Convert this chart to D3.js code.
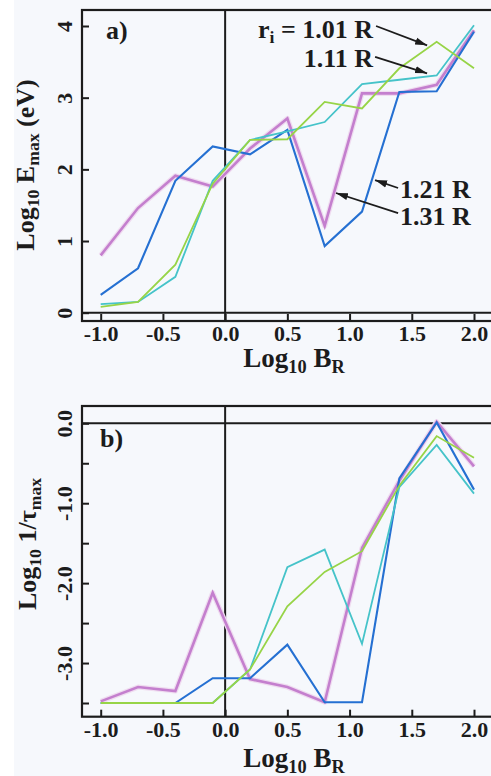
<!DOCTYPE html>
<html>
<head>
<meta charset="utf-8">
<script src="https://cdn.jsdelivr.net/npm/d3@7"></script>
<style>
  html, body { margin: 0; padding: 0; background: #f6f8fc; }
  svg { display: block; }
  text { font-family: "Liberation Serif", "Times New Roman", serif; font-weight: bold; fill: #1c1c1c; }
</style>
</head>
<body>
<svg id="chart" width="491" height="776"></svg>
<script>
// Sampled field strengths (log10 B_R), shared by every curve
const logB = [-1.0, -0.7, -0.4, -0.1, 0.2, 0.5, 0.8, 1.1, 1.4, 1.7, 2.0];

// Injection radii
const radii = ["1.01 R", "1.11 R", "1.21 R", "1.31 R"];

// Panel a): log10 E_max (eV)
const eMax101 = [0.08, 0.15, 0.67, 1.80, 2.41, 2.42, 2.94, 2.85, 3.41, 3.78, 3.41];
const eMax111 = [0.12, 0.15, 0.50, 1.84, 2.41, 2.53, 2.66, 3.19, 3.25, 3.31, 4.01];
const eMax121 = [0.25, 0.62, 1.84, 2.32, 2.21, 2.55, 0.93, 1.41, 3.08, 3.09, 3.92];
const eMax131 = [0.80, 1.46, 1.91, 1.76, 2.29, 2.71, 1.21, 3.06, 3.06, 3.18, 3.94];

// Panel b): log10 1/tau_max
const tau101 = [-3.50, -3.50, -3.50, -3.50, -3.08, -2.29, -1.86, -1.60, -0.78, -0.16, -0.43];
const tau111 = [-3.50, -3.50, -3.50, -3.50, -3.08, -1.80, -1.58, -2.76, -0.80, -0.27, -0.88];
const tau121 = [-3.50, -3.50, -3.50, -3.19, -3.19, -2.77, -3.49, -3.49, -0.69, 0.01, -0.83];
const tau131 = [-3.48, -3.30, -3.35, -2.12, -3.20, -3.30, -3.49, -1.56, -0.72, 0.02, -0.54];

// Tick values
const xTicks = [-1.0, -0.5, 0.0, 0.5, 1.0, 1.5, 2.0];
const eTicks = [0, 1, 2, 3, 4];
const tauTicks = [0, -0.5, -1.0, -1.5, -2.0, -2.5, -3.0, -3.5];

const svg = d3.select("#chart");
const W = 491, H = 776;
const ink = "#1c1c1c";

svg.append("rect").attr("width", W).attr("height", H).attr("fill", "#f6f8fc");
svg.append("rect").attr("width", 14).attr("height", H).attr("fill", "#ffffff");

// Arrowhead for the radius annotations
svg.append("defs").append("marker")
  .attr("id", "head")
  .attr("viewBox", "0 -5 12 10")
  .attr("refX", 12).attr("refY", 0)
  .attr("markerWidth", 12).attr("markerHeight", 10)
  .attr("markerUnits", "userSpaceOnUse")
  .attr("orient", "auto")
  .append("path").attr("d", "M0,-3.6L12,0L0,3.6Z").attr("fill", ink);

const x = d3.scaleLinear().domain([-1, 2]).range([100.7, 474]);
const frameLeft = 82, frameRight = 500;

const styles = {
  "1.01 R": { color: "#97d447", width: 1.8, halo: null },
  "1.11 R": { color: "#45c3c9", width: 1.8, halo: null },
  "1.21 R": { color: "#2570d2", width: 2.1, halo: null },
  "1.31 R": { color: "#c47fce", width: 2.6, halo: "#efdcf0" }
};
const drawOrder = ["1.31 R", "1.21 R", "1.11 R", "1.01 R"];

function subText(sel, parts) {
  // parts: [text, isSub]
  parts.forEach(([t, sub], i) => {
    const ts = sel.append("tspan").text(t);
    if (sub) ts.attr("font-size", "0.68em").attr("dy", "0.3em");
    else if (i > 0 && parts[i - 1][1]) ts.attr("dy", "-0.204em");
  });
}

function drawPanel(cfg) {
  const y = d3.scaleLinear().domain(cfg.yDomain).range(cfg.yRange);
  const g = svg.append("g");

  // zero reference lines
  g.append("line")
    .attr("x1", frameLeft).attr("x2", frameRight)
    .attr("y1", y(0)).attr("y2", y(0))
    .attr("stroke", ink).attr("stroke-width", 2);
  g.append("line")
    .attr("x1", x(0)).attr("x2", x(0))
    .attr("y1", cfg.top).attr("y2", cfg.bottom)
    .attr("stroke", ink).attr("stroke-width", 2);

  // curves
  const line = d3.line().x((d, i) => x(logB[i])).y(d => y(d));
  drawOrder.forEach(r => {
    const s = styles[r];
    const vals = cfg.series[r];
    if (s.halo) {
      g.append("path").attr("d", line(vals)).attr("fill", "none")
        .attr("stroke", s.halo).attr("stroke-width", s.width + 2.5)
        .attr("stroke-linejoin", "round");
    }
    g.append("path").attr("d", line(vals)).attr("fill", "none")
      .attr("stroke", s.color).attr("stroke-width", s.width)
      .attr("stroke-linejoin", "miter");
  });

  // frame
  g.append("rect")
    .attr("x", frameLeft).attr("y", cfg.top)
    .attr("width", frameRight - frameLeft).attr("height", cfg.bottom - cfg.top)
    .attr("fill", "none").attr("stroke", ink).attr("stroke-width", 2.2);

  // x axis: ticks point inward
  const xa = g.append("g").attr("transform", `translate(0,${cfg.bottom})`)
    .call(d3.axisBottom(x).tickValues(xTicks).tickSize(-7).tickFormat(d => d.toFixed(1)));
  xa.select(".domain").remove();
  xa.selectAll(".tick line").attr("stroke", ink).attr("stroke-width", 2);
  xa.selectAll(".tick text")
    .attr("y", 20).attr("dy", null)
    .attr("font-size", 22).attr("fill", ink)
    .attr("font-family", null);

  // y axis: ticks point inward, labels rotated
  const ya = g.append("g").attr("transform", `translate(${frameLeft},0)`)
    .call(d3.axisLeft(y).tickValues(cfg.yTicks).tickSize(-7).tickFormat(cfg.yFormat));
  ya.select(".domain").remove();
  ya.selectAll(".tick line").attr("stroke", ink).attr("stroke-width", 2);
  ya.selectAll(".tick text")
    .attr("x", null).attr("dy", null)
    .attr("text-anchor", "middle")
    .attr("transform", "translate(-10,0) rotate(-90)")
    .attr("font-size", 22).attr("fill", ink)
    .attr("font-family", null);

  // panel letter
  g.append("text").attr("x", cfg.letterX).attr("y", cfg.letterY)
    .attr("font-size", 26).attr("font-weight", "normal").text(cfg.letter);

  // x title
  const xt = g.append("text").attr("x", 294).attr("y", cfg.xTitleY)
    .attr("text-anchor", "middle").attr("font-size", 27);
  subText(xt, [["Log", false], ["10", true], [" B", false], ["R", true]]);

  // y title
  const yt = g.append("text")
    .attr("transform", `translate(${cfg.yTitleX},${cfg.yTitleY}) rotate(-90)`)
    .attr("text-anchor", "middle").attr("font-size", 26);
  subText(yt, cfg.yTitle);

  return y;
}

const yA = drawPanel({
  top: 10, bottom: 321,
  yDomain: [0, 4], yRange: [312.7, 26],
  yTicks: eTicks, yFormat: d => String(d),
  series: { "1.01 R": eMax101, "1.11 R": eMax111, "1.21 R": eMax121, "1.31 R": eMax131 },
  letter: "a)", letterX: 106, letterY: 39,
  xTitleY: 367,
  yTitleX: 34, yTitleY: 165,
  yTitle: [["Log", false], ["10", true], [" E", false], ["max", true], [" (eV)", false]]
});

drawPanel({
  top: 406, bottom: 716.7,
  yDomain: [0, -3.5], yRange: [423.3, 703],
  yTicks: tauTicks, yFormat: d => (Number.isInteger(d) ? d.toFixed(1) : ""),
  series: { "1.01 R": tau101, "1.11 R": tau111, "1.21 R": tau121, "1.31 R": tau131 },
  letter: "b)", letterX: 100, letterY: 447,
  xTitleY: 767,
  yTitleX: 36, yTitleY: 544,
  yTitle: [["Log", false], ["10", true], [" 1/\u03c4", false], ["max", true]]
});

// Radius labels with arrows (panel a, data coordinates)
const notes = [
  { text: radii[0], prefix: true, tx: 373, ty: 38, anchor: "end", from: [1.213, 4.00], to: [1.623, 3.73] },
  { text: radii[1], prefix: false, tx: 373, ty: 67, anchor: "end", from: [1.205, 3.57], to: [1.623, 3.34] },
  { text: radii[2], prefix: false, tx: 400, ty: 198, anchor: "start", from: [1.39, 1.74], to: [1.205, 1.85] },
  { text: radii[3], prefix: false, tx: 400, ty: 225, anchor: "start", from: [1.39, 1.39], to: [0.891, 1.67] }
];
notes.forEach(n => {
  svg.append("line")
    .attr("x1", x(n.from[0])).attr("y1", yA(n.from[1]))
    .attr("x2", x(n.to[0])).attr("y2", yA(n.to[1]))
    .attr("stroke", ink).attr("stroke-width", 1.8)
    .attr("marker-end", "url(#head)");
  const t = svg.append("text").attr("x", n.tx).attr("y", n.ty)
    .attr("text-anchor", n.anchor).attr("font-size", 26);
  if (n.prefix) subText(t, [["r", false], ["i", true], [" = " + n.text, false]]);
  else t.text(n.text);
});
</script>
</body>
</html>
